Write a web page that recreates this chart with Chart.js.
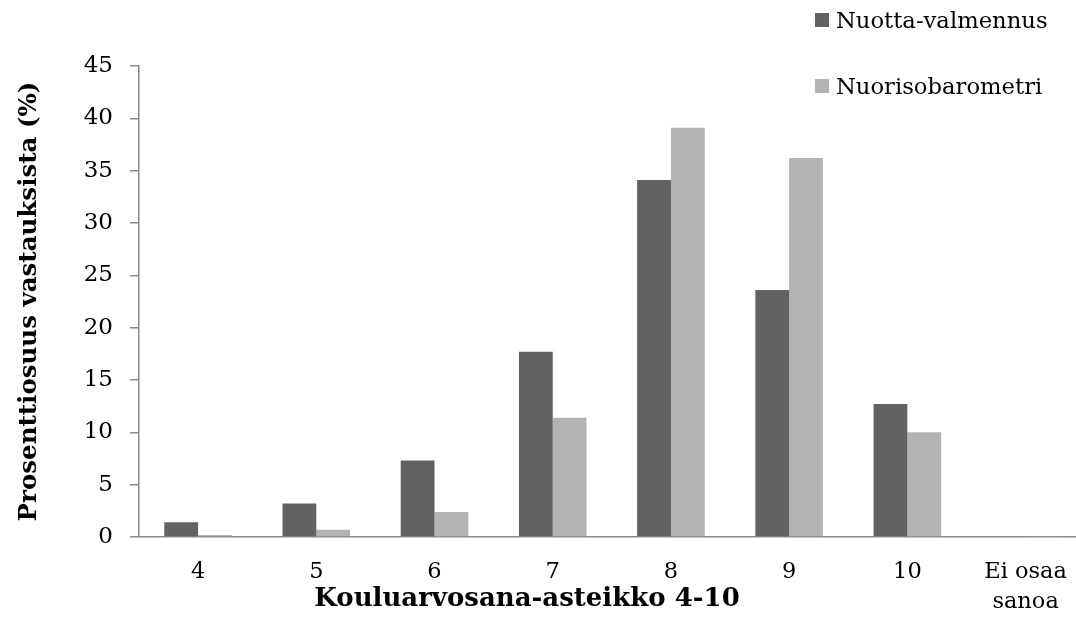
<!DOCTYPE html>
<html>
<head>
<meta charset="utf-8">
<script src="https://cdn.jsdelivr.net/npm/chart.js@4/dist/chart.umd.min.js"></script>
<style>
  html, body { margin: 0; padding: 0; background: #fff; overflow: hidden; }
  #wrap { width: 1088px; height: 627px; position: relative; }
</style>
</head>
<body>
<div id="wrap"><canvas id="chart"></canvas></div>
<script>
// Arvosanaluokat ja vastausten osuudet (%)
const categories = ['4', '5', '6', '7', '8', '9', '10', ['Ei osaa', 'sanoa']];
const nuottaValmennus = [1.4, 3.2, 7.3, 17.7, 34.1, 23.6, 12.7, 0];
const nuorisobarometri = [0.2, 0.7, 2.4, 11.4, 39.1, 36.2, 10.0, 0.1];
const seriesNames = ['Nuotta-valmennus', 'Nuorisobarometri'];
const yTicks = [0, 5, 10, 15, 20, 25, 30, 35, 40, 45];

const FONT = '"DejaVu Serif", serif';
const AXIS_GREY = '#8a8a8a';
const X_TITLE = 'Kouluarvosana-asteikko 4-10';

// Selite ja x-akselin otsikko piirretään omalla lisäosalla
const extras = {
  id: 'extras',
  afterDraw(chart) {
    const ctx = chart.ctx;
    ctx.save();
    ctx.textBaseline = 'alphabetic';
    ctx.textAlign = 'left';
    ctx.font = '22.7px ' + FONT;
    const rows = [28, 94];
    chart.data.datasets.forEach((ds, i) => {
      const y = rows[i];
      ctx.fillStyle = ds.backgroundColor;
      ctx.fillRect(815, y - 15, 14, 14);
      ctx.fillStyle = '#000';
      ctx.fillText(ds.label, 836, y);
    });
    ctx.font = 'bold 26px ' + FONT;
    ctx.textAlign = 'center';
    ctx.fillText(X_TITLE, 527, 606);
    ctx.restore();
  }
};

new Chart(document.getElementById('chart'), {
  type: 'bar',
  data: {
    labels: categories,
    datasets: [
      { label: seriesNames[0], data: nuottaValmennus, backgroundColor: '#626262' },
      { label: seriesNames[1], data: nuorisobarometri, backgroundColor: '#b3b3b3' }
    ]
  },
  options: {
    responsive: true,
    maintainAspectRatio: false,
    animation: false,
    layout: { padding: { top: 66, right: 1, left: 0, bottom: 0 } },
    plugins: { legend: { display: false }, tooltip: { enabled: false } },
    datasets: { bar: { categoryPercentage: 0.572, barPercentage: 1.0 } },
    scales: {
      x: {
        grid: { display: false, drawTicks: false },
        border: { display: true, color: AXIS_GREY, width: 1.5 },
        ticks: {
          color: '#000',
          font: { family: FONT, size: 22.5, lineHeight: 1.3 },
          padding: 21,
          maxRotation: 0,
          autoSkip: false
        },
        afterFit(scale) { scale.height = 90; }
      },
      y: {
        min: 0,
        max: 45,
        afterBuildTicks(scale) { scale.ticks = yTicks.map(v => ({ value: v })); },
        grid: { drawOnChartArea: false, drawTicks: true, tickLength: 9, color: AXIS_GREY, lineWidth: 1.5 },
        border: { display: true, color: AXIS_GREY, width: 1.5 },
        ticks: {
          color: '#000',
          font: { family: FONT, size: 23 },
          padding: 17
        },
        title: {
          display: true,
          text: 'Prosenttiosuus vastauksista (%)',
          color: '#000',
          font: { family: FONT, size: 24.5, weight: 'bold' },
          padding: { top: 15, bottom: 0 }
        },
        afterFit(scale) { scale.width = 139; }
      }
    }
  },
  plugins: [extras]
});
</script>
</body>
</html>
